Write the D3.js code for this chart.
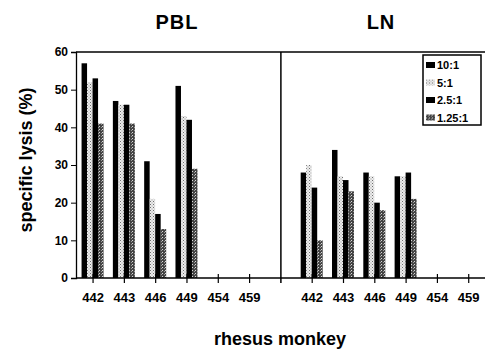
<!DOCTYPE html>
<html>
<head>
<meta charset="utf-8">
<script src="https://cdn.jsdelivr.net/npm/d3@7"></script>
<style>
  body { margin: 0; background: #fff; }
  text { font-family: Arial, "Liberation Sans", sans-serif; font-weight: bold; fill: #000; }
</style>
</head>
<body>
<svg id="chart" width="485" height="352"></svg>
<script>
// monkeys on the x axis, repeated for both panels
var monkeys = ['442', '443', '446', '449', '454', '459']
var panels = ['PBL', 'LN']
var ratios = ['10:1', '5:1', '2.5:1', '1.25:1']

// specific lysis (%) per E:T ratio
var pbl10 = [57, 47, 31, 51, 0, 0]
var pbl5 = [52, 46, 21, 43, 0, 0]
var pbl25 = [53, 46, 17, 42, 0, 0]
var pbl125 = [41, 41, 13, 29, 0, 0]
var ln10 = [28, 34, 28, 27, 0, 0]
var ln5 = [30, 27, 27, 27, 0, 0]
var ln25 = [24, 26, 20, 28, 0, 0]
var ln125 = [10, 23, 18, 21, 0, 0]

var yTicks = [0, 10, 20, 30, 40, 50, 60]

var series = {
    PBL: [pbl10, pbl5, pbl25, pbl125],
    LN: [ln10, ln5, ln25, ln125]
}

var svg = d3.select('#chart')

// fills
var defs = svg.append('defs')
var dots = defs.append('pattern').attr('id', 'dots')
    .attr('width', 3).attr('height', 3).attr('patternUnits', 'userSpaceOnUse')
dots.append('rect').attr('width', 3).attr('height', 3).attr('fill', '#ececec')
dots.append('rect').attr('width', 1).attr('height', 1).attr('fill', '#707070')
dots.append('rect').attr('x', 1.5).attr('y', 1.5).attr('width', 1).attr('height', 1).attr('fill', '#999')

var hatch = defs.append('pattern').attr('id', 'hatch')
    .attr('width', 3).attr('height', 3).attr('patternUnits', 'userSpaceOnUse')
hatch.append('rect').attr('width', 3).attr('height', 3).attr('fill', '#444')
hatch.append('rect').attr('width', 1).attr('height', 1).attr('fill', '#d8d8d8')
hatch.append('rect').attr('x', 2).attr('y', 1).attr('width', 1).attr('height', 1).attr('fill', '#9a9a9a')

var fills = ['#000', 'url(#dots)', '#000', 'url(#hatch)']

// slot index: 0..5 for PBL, 6 = divider, 7..12 for LN
var x = d3.scaleLinear().domain([-0.545, 12.52]).range([76, 485])
var y = d3.scaleLinear().domain([0, 60]).range([278, 52])
var inner = d3.scaleBand().domain(ratios).range([-11.5, 10.5])

var rows = []
panels.forEach(function (p, pi) {
    monkeys.forEach(function (m, mi) {
        ratios.forEach(function (r, ri) {
            rows.push({ panel: p, monkey: m, ratio: r, ri: ri, slot: mi + pi * 7, value: series[p][ri][mi] })
        })
    })
})

svg.append('g').selectAll('rect')
    .data(rows)
    .enter()
    .append('rect')
    .attr('x', function (d) { return x(d.slot) + inner(d.ratio) })
    .attr('width', inner.bandwidth())
    .attr('y', function (d) { return y(d.value) })
    .attr('height', function (d) { return y(0) - y(d.value) })
    .attr('fill', function (d) { return fills[d.ri] })

// frame: top line, divider
svg.append('line')
    .attr('x1', x.range()[0]).attr('x2', x.range()[1])
    .attr('y1', y(60)).attr('y2', y(60))
    .attr('stroke', '#000').attr('stroke-width', 1.3)
svg.append('line')
    .attr('x1', x(6)).attr('x2', x(6))
    .attr('y1', y(60)).attr('y2', y(0) + 5)
    .attr('stroke', '#000').attr('stroke-width', 1.5)

// y axis
var yAxis = svg.append('g')
    .attr('transform', 'translate(' + x.range()[0] + ',0)')
    .call(d3.axisLeft(y).tickValues(yTicks).tickSize(5).tickPadding(3))
yAxis.selectAll('text').style('font-size', '12px').style('font-family', 'Arial, sans-serif').style('font-weight', 'bold')
yAxis.select('.domain').attr('stroke-width', 1.3)

// x axis: ticks cross the baseline
svg.append('line')
    .attr('x1', x.range()[0]).attr('x2', x.range()[1])
    .attr('y1', y(0)).attr('y2', y(0))
    .attr('stroke', '#000').attr('stroke-width', 1.5)

var slots = []
panels.forEach(function (p, pi) {
    monkeys.forEach(function (m, mi) { slots.push({ slot: mi + pi * 7, label: m }) })
})
svg.append('g').selectAll('line')
    .data(slots)
    .enter()
    .append('line')
    .attr('x1', function (d) { return x(d.slot) })
    .attr('x2', function (d) { return x(d.slot) })
    .attr('y1', y(0) - 4).attr('y2', y(0) + 5)
    .attr('stroke', '#000').attr('stroke-width', 1.2)
svg.append('g').selectAll('text')
    .data(slots)
    .enter()
    .append('text')
    .attr('x', function (d) { return x(d.slot) })
    .attr('y', 302)
    .attr('text-anchor', 'middle')
    .style('font-size', '13px')
    .text(function (d) { return d.label })

// titles
svg.selectAll('.ptitle')
    .data(panels)
    .enter()
    .append('text')
    .attr('class', 'ptitle')
    .attr('x', function (d, i) { return i ? 381 : 177 })
    .attr('y', 29)
    .attr('text-anchor', 'middle')
    .style('font-size', '20px')
    .style('letter-spacing', '1px')
    .text(function (d) { return d })

svg.append('text')
    .attr('transform', 'translate(32,160) rotate(-90)')
    .attr('text-anchor', 'middle')
    .style('font-size', '18px')
    .text('specific lysis (%)')

svg.append('text')
    .attr('x', 280).attr('y', 345)
    .attr('text-anchor', 'middle')
    .style('font-size', '18px')
    .text('rhesus monkey')

// legend
var lg = svg.append('g').attr('transform', 'translate(423,55)')
lg.append('rect')
    .attr('width', 58).attr('height', 70)
    .attr('fill', '#fff').attr('stroke', '#000').attr('stroke-width', 1.5)
var item = lg.selectAll('.item')
    .data(ratios)
    .enter()
    .append('g')
    .attr('class', 'item')
    .attr('transform', function (d, i) { return 'translate(3,' + (10 + i * 17.5) + ')' })
item.append('rect')
    .attr('y', -3).attr('width', 9).attr('height', 6)
    .attr('fill', function (d, i) { return fills[i] })
item.append('text')
    .attr('x', 11).attr('y', 4)
    .style('font-size', '11px')
    .text(function (d) { return d })
</script>
</body>
</html>
